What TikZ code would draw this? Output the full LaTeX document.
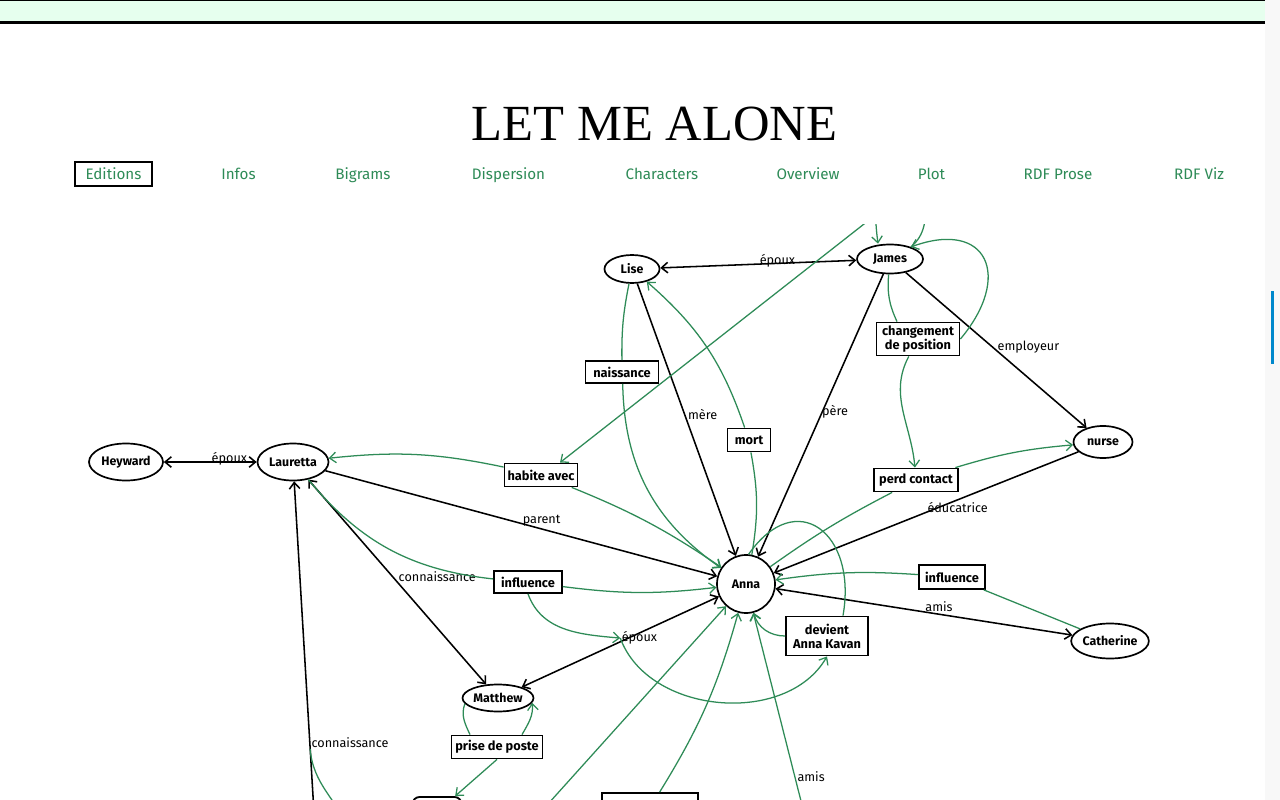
\documentclass[tikz,border=0pt]{standalone}
\usepackage{fontspec}
\setmainfont{Liberation Serif}
\setsansfont{Fira Sans}
\usetikzlibrary{shapes,backgrounds,calc,arrows,arrows.meta,fit,positioning,quotes}
\usepackage{xcolor}
\definecolor{linkgreen}{RGB}{46,139,87}
\definecolor{headgreen}{RGB}{230,255,238}
\definecolor{trackgrey}{RGB}{248,248,248}
\definecolor{thumbblue}{RGB}{0,136,204}
\newcommand{\pxl}{0.025cm}

\begin{document}
\begin{tikzpicture}[
            x=\pxl, y=-\pxl,
            >={Straight Barb[length=4.5pt,width=7.5pt]},
            person/.style={
                draw,
                ellipse,
                fill=white,
                line width=1.2pt,
                inner sep=0pt,
                font=\sffamily\bfseries\fontsize{8.8}{10}\selectfont
            },
            event/.style={
                draw,
                rectangle,
                fill=white,
                line width=1.3pt,
                align=center,
                inner sep=0pt,
                font=\sffamily\bfseries\fontsize{9.1}{10}\selectfont
            },
            elabel/.style={
                anchor=base west,
                inner sep=0.5pt,
                font=\sffamily\fontsize{9}{10}\selectfont
            },
            rel/.style={draw=black, line width=1.1pt},
            link/.style={draw=linkgreen, line width=0.9pt},
            menu/.style={anchor=base, text=linkgreen, font=\sffamily\fontsize{10.8}{12}\selectfont}
        ]
        \useasboundingbox (0,0) rectangle (1280,800);
        \fill[white] (0,0) rectangle (1280,800);

        % page header and scrollbar
        \fill[headgreen] (0,0) rectangle (1265,22);
        \draw[line width=0.7pt] (0,0.5) -- (1265,0.5);
        \fill[black] (0,21.5) rectangle (1265,24.5);
        \fill[trackgrey] (1265,0) rectangle (1280,800);
        \fill[thumbblue] (1271,291) rectangle (1274,364);

        \node[font=\fontsize{36}{40}\selectfont] (title) at (654.5,124) {LET ME ALONE};

        \node[draw=black, line width=1.5pt, minimum width=77*\pxl, minimum height=24*\pxl] (editbox) at (113.5,174) {};
        \node[menu] (editions) at (113.5,179.5) {Editions};
        \node[menu] (infos) at (238.5,179.5) {Infos};
        \node[menu] (bigrams) at (363,179.5) {Bigrams};
        \node[menu] (dispersion) at (508.5,179.5) {Dispersion};
        \node[menu] (characters) at (662,179.5) {Characters};
        \node[menu] (overview) at (808,179.5) {Overview};
        \node[menu] (plot) at (931.5,179.5) {Plot};
        \node[menu] (rdfprose) at (1058,179.5) {RDF Prose};
        \node[menu] (rdfviz) at (1199,179.5) {RDF Viz};

        \begin{scope}
        \clip (0,225) rectangle (1265,800);

        \node[person, minimum width=55*\pxl, minimum height=28*\pxl] (lise) at (632,269) {Lise};
        \node[person, minimum width=66*\pxl, minimum height=29*\pxl] (james) at (890,259) {James};
        \node[person, minimum width=74*\pxl, minimum height=37*\pxl] (heyward) at (126,462) {Heyward};
        \node[person, minimum width=71*\pxl, minimum height=37*\pxl] (lauretta) at (293,462) {Lauretta};
        \node[person, circle, minimum size=58*\pxl] (anna) at (746,584) {Anna};
        \node[person, minimum width=59*\pxl, minimum height=32*\pxl] (nurse) at (1103,442) {nurse};
        \node[person, minimum width=73*\pxl, minimum height=35*\pxl] (catherine) at (1110,641) {Catherine};
        \node[person, minimum width=71*\pxl, minimum height=27*\pxl] (matthew) at (498,698) {Matthew};

        \node[event, minimum width=73*\pxl, minimum height=22*\pxl] (naissance) at (622,372) {naissance};
        \node[event, minimum width=83*\pxl, minimum height=33*\pxl] (changement) at (918,339) {changement\\de position};
        \node[event, minimum width=43*\pxl, minimum height=23*\pxl] (mort) at (749,440) {mort};
        \node[event, minimum width=73*\pxl, minimum height=23*\pxl] (habite) at (541,475) {habite avec};
        \node[event, minimum width=68*\pxl, minimum height=22*\pxl] (influenceL) at (528,582) {influence};
        \node[event, minimum width=82*\pxl, minimum height=39*\pxl] (devient) at (827,636) {devient\\Anna Kavan};
        \node[event, minimum width=84*\pxl, minimum height=23*\pxl] (perd) at (916,480) {perd contact};
        \node[event, minimum width=66*\pxl, minimum height=24*\pxl] (influenceR) at (952,577) {influence};
        \node[event, minimum width=91*\pxl, minimum height=23*\pxl] (prise) at (497,747) {prise de poste};
        \node[event, minimum width=96*\pxl, minimum height=30*\pxl] (lowbox) at (650,808) {};
        \node[event, rounded corners=5pt, minimum width=49*\pxl, minimum height=30*\pxl] (lownode) at (437,812) {};

        \coordinate (topA) at (901,195);
        \coordinate (topB) at (876,195);
        \coordinate (topC) at (927,200);
        \coordinate (lowA) at (326,1013);
        \coordinate (lowB) at (449,914);
        \coordinate (lowC) at (839,951);
        \coordinate (lowD) at (350,830);

        \draw[rel, <->] (lise) -- node[elabel] {époux} (james);
        \draw[rel, <->] (heyward) -- node[elabel] {époux} (lauretta);
        \draw[rel, ->] (lise) -- node[elabel] {mère} (anna);
        \draw[rel, ->] (james) -- node[elabel] {père} (anna);
        \draw[rel, ->] (james) -- node[elabel] {employeur} (nurse);
        \draw[rel, ->] (lauretta) -- node[elabel] {parent} (anna);
        \draw[rel, <->] (lauretta) -- node[elabel] {connaissance} (matthew);
        \draw[rel, <->] (anna) -- node[elabel] (epouxAM) {époux} (matthew);
        \draw[rel, ->] (nurse) -- node[elabel] {éducatrice} (anna);
        \draw[rel, <->] (anna) -- node[elabel] {amis} (catherine);
        \draw[rel, ->] (lowA) -- node[elabel] (connV) {connaissance} (lauretta);

        \draw[link] (lise) to[bend right=6] (naissance);
        \draw[link, ->] (naissance) to[bend right=27] (anna);
        \draw[link] (anna) to[bend right=10] (mort);
        \draw[link, ->] (mort) to[bend right=15] (lise);
        \draw[link, ->] (habite) to[bend right=9] (lauretta);
        \draw[link, ->] (habite) to[bend left=6] (anna);
        \draw[link] (lauretta) to[bend right=22] (influenceL);
        \draw[link, ->] (influenceL) to[bend right=7] (anna);
        \draw[link, ->] (influenceL.south) to[out=-70,in=175] (epouxAM.west);
        \draw[link, ->] (epouxAM.west) to[out=-70,in=-120] (devient.south);
        \draw[link] (anna.85) to[out=55,in=80,looseness=1.9] ([xshift=16*\pxl]devient.north);
        \draw[link, ->] (devient.west) to[out=180,in=-75] (anna);
        \draw[link] (anna) to[bend left=4] (perd);
        \draw[link, ->] (perd) to[bend left=6] (nurse);
        \draw[link] (catherine) -- (influenceR);
        \draw[link, ->] (influenceR) to[bend right=6] (anna);
        \draw[link] (james) to[out=-95,in=115] ([xshift=-21*\pxl]changement.north);
        \draw[link, ->] (changement.east) to[out=50,in=20,looseness=2] (james.30);
        \draw[link, ->] (changement) to[out=-118,in=95] (perd);
        \draw[link] (matthew.190) to[out=-110,in=115] ([xshift=-27*\pxl]prise.north);
        \draw[link, ->] ([xshift=25*\pxl]prise.north) to[out=60,in=-85] (matthew.-8);
        \draw[link, ->] (prise.south) -- (lownode);
        \draw[link, ->] (lowB) -- (anna);
        \draw[link, ->] (lowbox) to[bend right=8] (anna);
        \draw[link, ->] (lowC) -- node[elabel] {amis} (anna);
        \draw[link] (connV.south west) to[out=-85,in=115] (lowD);
        \draw[link, ->] (topA) -- ([xshift=19*\pxl]habite.north);
        \draw[link, ->] (topB) to[bend right=5] ([xshift=-12*\pxl]james.north);
        \draw[link] (topC) to[out=-95,in=40] (james.30);
        \end{scope}
    \end{tikzpicture}
\end{document}
